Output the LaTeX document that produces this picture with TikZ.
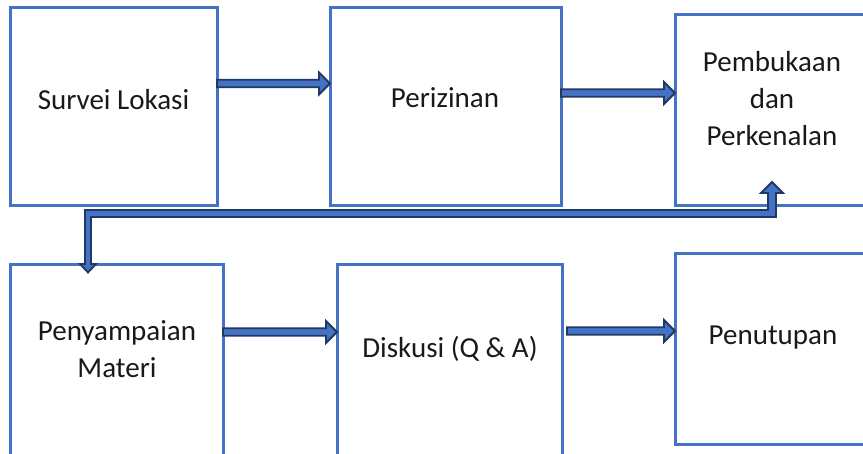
\documentclass[tikz,border=0pt]{standalone}
\usepackage{fontspec}
\setmainfont{Carlito}
\usetikzlibrary{calc}
\definecolor{boxblue}{HTML}{4472C4}
\definecolor{arrowfill}{HTML}{4472C4}
\definecolor{arrowline}{HTML}{1F3864}
\tikzset{
  stepbox/.style={draw=boxblue, line width=3pt, rectangle, inner sep=0pt, outer sep=0pt, anchor=north west},
  caption/.style={align=center, font=\fontsize{29}{37}\selectfont, text=black!90, inner sep=0pt},
  flow/.style={draw=arrowline, fill=arrowfill, line width=1.8pt, line join=miter},
  % horizontal block arrow from the start point to the target's x
  rarrow/.style={to path={let \p1=(\tikztostart), \p2=(\tikztotarget) in
     ({\x1},{\y1+3.8pt}) -- ({\x2-11pt},{\y1+3.8pt}) -- ({\x2-11pt},{\y1+11pt})
     -- ({\x2},{\y1}) -- ({\x2-11pt},{\y1-11pt}) -- ({\x2-11pt},{\y1-3.8pt})
     -- ({\x1},{\y1-3.8pt}) -- cycle}}
}
\begin{document}
\begin{tikzpicture}[x=1pt, y=-1pt]
\useasboundingbox (0,0) rectangle (863,453);
\clip (0,0) rectangle (863,453);

% boxes
\node[stepbox, minimum width=207pt, minimum height=198pt] (b1) at (10,7.5) {};
\node[stepbox, minimum width=231pt, minimum height=198pt] (b2) at (330,7.5) {};
\node[stepbox, minimum width=196pt, minimum height=191pt] (b3) at (675,14) {};
\node[stepbox, minimum width=213pt, minimum height=200pt] (b4) at (10,264) {};
\node[stepbox, minimum width=225pt, minimum height=200pt] (b5) at (337,264) {};
\node[stepbox, minimum width=196pt, minimum height=191pt] (b6) at (675,253) {};

% labels
\node[caption] (t1) at (113.5,100) {Survei Lokasi};
\node[caption] (t2) at (445,98) {Perizinan};
\node[caption] (t3) at (772,99) {Pembukaan\\dan\\Perkenalan};
\node[caption] (t4) at (117,349) {Penyampaian\\Materi};
\node[caption] (t5) at (450,349) {Diskusi (Q \& A)};
\node[caption] (t6) at (773,338) {Penutupan};

% straight block arrows
\path[flow] (b1.east |- 0,83.5) to[rarrow] (b2.west |- 0,83.5);
\path[flow] (b2.east |- 0,93) to[rarrow] (b3.west |- 0,93);
\path[flow] (b4.east |- 0,332) to[rarrow] (b5.west |- 0,332);
\path[flow] ($(b5.east |- 0,331)+(5,0)$) to[rarrow] (b6.west |- 0,331);

% elbow arrow between the two rows
\path[flow] (85,210) -- (768,210) -- (768,193) -- (761,193) -- (772,182)
  -- (783,193) -- (776,193) -- (776,217) -- (91,217) -- (91,264)
  -- (96,264) -- (88,272.5) -- (80,264) -- (85,264) -- cycle;
\end{tikzpicture}
\end{document}
